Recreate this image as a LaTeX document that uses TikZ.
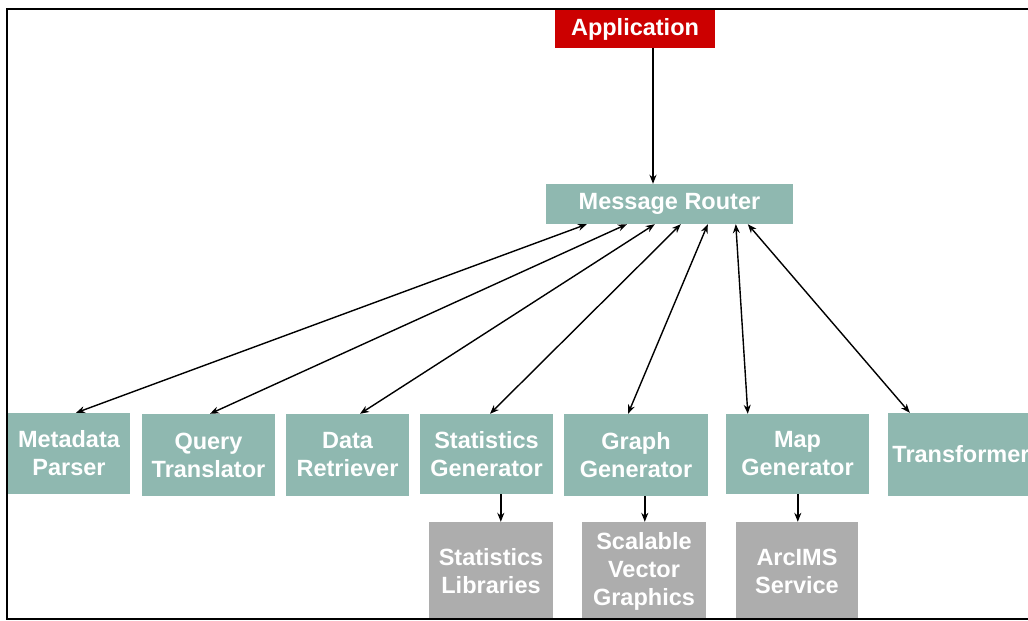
\documentclass[tikz,border=0pt]{standalone}
\usepackage{fontspec}
\setmainfont{Liberation Sans}
\usetikzlibrary{arrows.meta}
\definecolor{appred}{HTML}{CC0000}
\definecolor{teal}{HTML}{8FB8B0}
\definecolor{greybox}{HTML}{ADADAD}
\tikzset{
  box/.style={rectangle, inner sep=0pt, align=center, text=white,
    font=\bfseries\fontsize{23.5}{28}\selectfont},
  tealbox/.style={box, fill=teal},
  greybx/.style={box, fill=greybox},
  conn/.style={line width=1.4pt, -{Stealth[length=9pt,width=7pt]}},
  dconn/.style={line width=1.4pt, {Stealth[length=9pt,width=7pt]}-{Stealth[length=9pt,width=7pt]}},
}
\begin{document}
\begin{tikzpicture}[x=1pt,y=-1pt]
\useasboundingbox (0,0) rectangle (1028,621);
\fill[white] (0,0) rectangle (1028,621);
% top
\node[box, fill=appred, minimum width=160pt, minimum height=38pt] (app) at (635,29) {Application};
\node[tealbox, minimum width=247pt, minimum height=40pt] (router) at (669.5,204) {Message Router};
% middle row
\node[tealbox, minimum width=122pt, minimum height=81pt] (meta) at (69,453.5) {Metadata\\Parser};
\node[tealbox, minimum width=133pt, minimum height=82pt] (query) at (208.5,455) {Query\\Translator};
\node[tealbox, minimum width=123pt, minimum height=82pt] (data) at (347.5,455) {Data\\Retriever};
\node[tealbox, minimum width=133pt, minimum height=80pt] (statgen) at (486.5,454) {Statistics\\Generator};
\node[tealbox, minimum width=144pt, minimum height=82pt] (graph) at (636,455) {Graph\\Generator};
\node[tealbox, minimum width=143pt, minimum height=80pt] (map) at (797.5,454) {Map\\Generator};
\node[tealbox, minimum width=146pt, minimum height=83pt] (trans) at (961,454.5) {Transformer};
% bottom row
\node[greybx, minimum width=124pt, minimum height=98pt] (statlib) at (491,571) {Statistics\\Libraries};
\node[greybx, minimum width=124pt, minimum height=98pt] (svg) at (644,571) {Scalable\\Vector\\Graphics};
\node[greybx, minimum width=122pt, minimum height=98pt] (arcims) at (797,571) {ArcIMS\\Service};
% connectors
\draw[conn] ([xshift=18pt]app.south) -- ([xshift=-16.5pt]router.north);
\draw[dconn] ([xshift=41pt]router.south west) -- ([xshift=7pt]meta.north);
\draw[dconn] ([xshift=81pt]router.south west) -- ([xshift=1.5pt]query.north);
\draw[dconn] ([xshift=109pt]router.south west) -- ([xshift=12.5pt]data.north);
\draw[dconn] ([xshift=135pt]router.south west) -- ([xshift=3.5pt]statgen.north);
\draw[dconn] ([xshift=162pt]router.south west) -- ([xshift=-8pt]graph.north);
\draw[dconn] ([xshift=190pt]router.south west) -- ([xshift=22pt]map.north west);
\draw[dconn] ([xshift=202pt]router.south west) -- ([xshift=22pt]trans.north west);
\draw[conn] ([xshift=81pt]statgen.south west) -- ([xshift=72pt]statlib.north west);
\draw[conn] ([xshift=81pt]graph.south west) -- ([xshift=63pt]svg.north west);
\draw[conn] ([xshift=72pt]map.south west) -- ([xshift=62pt]arcims.north west);
% frame
\draw[line width=2pt, black] (1035,9) -- (7,9) -- (7,619) -- (1035,619);
\end{tikzpicture}
\end{document}
